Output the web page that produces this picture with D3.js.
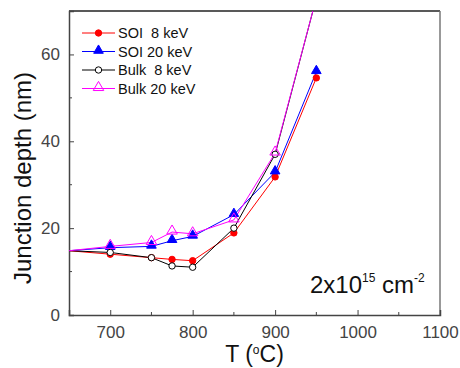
<!DOCTYPE html>
<html>
<head>
<meta charset="utf-8">
<script src="https://cdn.jsdelivr.net/npm/d3@7"></script>
<style>
  body { margin: 0; background: #fff; }
  text { font-family: "Liberation Sans", Arial, sans-serif; }
</style>
</head>
<body>
<div id="chart"></div>
<script>
// data
const temps = [650, 700, 750, 775, 800, 850, 900, 950];
const soi8   = [14.8, 14.0, 13.2, 12.8, 12.5, 18.9, 31.8, 54.6];
const soi20  = [14.8, 15.5, 15.8, 17.1, 18.1, 23.1, 32.9, 56.0];
const bulk8  = [14.8, 14.4, 13.2, 11.3, 11.0, 20.0, 37.0, 73.0];
const bulk20 = [14.8, 15.8, 16.7, 19.1, 18.7, 21.9, 37.3, 73.0];
const xTicks = [700, 800, 900, 1000, 1100];
const yTicks = [0, 20, 40, 60];

const series = [
  {name: "SOI  8 keV",  values: soi8,   color: "#ff0000", shape: "circle",   filled: true},
  {name: "SOI 20 keV",  values: soi20,  color: "#0000ff", shape: "triangle", filled: true},
  {name: "Bulk  8 keV", values: bulk8,  color: "#000000", shape: "circle",   filled: false},
  {name: "Bulk 20 keV", values: bulk20, color: "#ff00ff", shape: "triangle", filled: false}
];

const W = 460, H = 368;
const margin = {top: 11, right: 20, bottom: 53, left: 69};
const width = W - margin.left - margin.right,
      height = H - margin.top - margin.bottom;

const svg = d3.select("#chart").append("svg")
    .attr("width", W).attr("height", H)
  .append("g")
    .attr("transform", "translate(" + margin.left + "," + margin.top + ")");

const x = d3.scaleLinear().domain([650, 1100]).range([0, width]);
const y = d3.scaleLinear().domain([0, 70]).range([height, 0]);

svg.append("defs").append("clipPath").attr("id", "clip")
  .append("rect").attr("width", width).attr("height", height);

// frame top/right
svg.append("line").attr("x1", 0).attr("x2", width).attr("y1", 0).attr("y2", 0)
  .attr("stroke", "#222").attr("stroke-width", 1.5);
svg.append("line").attr("x1", width).attr("x2", width).attr("y1", 0).attr("y2", height)
  .attr("stroke", "#777").attr("stroke-width", 1.5);

// x axis
const gx = svg.append("g").attr("transform", "translate(0," + height + ")")
  .call(d3.axisBottom(x).tickValues(xTicks).tickSize(-5).tickPadding(11).tickFormat(d3.format("d")));
gx.append("g").selectAll("line").data([750, 850, 950, 1050]).enter().append("line")
  .attr("x1", d => x(d)).attr("x2", d => x(d)).attr("y1", 0).attr("y2", -3)
  .attr("stroke", "#444");

// y axis
const gy = svg.append("g")
  .call(d3.axisLeft(y).tickValues(yTicks).tickSize(-5).tickPadding(9));
gy.append("g").selectAll("line").data([10, 30, 50]).enter().append("line")
  .attr("y1", d => y(d)).attr("y2", d => y(d)).attr("x1", 0).attr("x2", 3)
  .attr("stroke", "#444");

[gx, gy].forEach(g => {
  g.select(".domain").attr("stroke", "#444").attr("stroke-width", 1.5);
  g.selectAll(".tick line").attr("stroke", "#444");
  g.selectAll(".tick text").attr("fill", "#444").style("font-size", "17px");
});

// axis titles
svg.append("text")
  .attr("x", width / 2).attr("y", height + 47)
  .attr("text-anchor", "middle").style("font-size", "23px").attr("fill", "#111")
  .html('T (<tspan dy="-8" font-size="12px">o</tspan><tspan dy="8">C)</tspan>');

svg.append("text")
  .attr("transform", "rotate(-90)")
  .attr("x", -167).attr("y", -margin.left + 31)
  .attr("text-anchor", "middle").style("font-size", "24px").attr("fill", "#111")
  .text("Junction depth (nm)");

// annotation
svg.append("text")
  .attr("x", 241).attr("y", 282)
  .style("font-size", "24px").attr("fill", "#111")
  .html('2x10<tspan dy="-11" font-size="12px">15</tspan><tspan dy="11"> cm</tspan><tspan dy="-11" font-size="12px">-2</tspan>');

// lines and markers
const line = d3.line().x((d, i) => x(temps[i])).y(d => y(d));
const plot = svg.append("g").attr("clip-path", "url(#clip)");

function marker(g, s, px, py) {
  if (s.shape === "circle") {
    g.append("circle").attr("cx", px).attr("cy", py).attr("r", 3.2)
      .attr("fill", s.filled ? s.color : "#fff").attr("stroke", s.color).attr("stroke-width", 1);
  } else {
    g.append("path")
      .attr("d", d3.symbol().type(d3.symbolTriangle).size(s.filled ? 40 : 48)())
      .attr("transform", "translate(" + px + "," + (py - 1) + ")")
      .attr("fill", s.filled ? s.color : "none").attr("stroke", s.color).attr("stroke-width", 1);
  }
}

series.forEach(s => {
  plot.append("path").datum(s.values)
    .attr("d", line).attr("fill", "none")
    .attr("stroke", s.color).attr("stroke-width", 1);
});
series.forEach(s => {
  s.values.forEach((v, i) => {
    if (temps[i] > 650 && y(v) > 0) marker(plot, s, x(temps[i]), y(v));
  });
});

// legend
const legend = svg.append("g").attr("transform", "translate(13,22)");
series.forEach((s, i) => {
  const g = legend.append("g").attr("transform", "translate(0," + (i * 18.5) + ")");
  g.append("line").attr("x1", 0).attr("x2", 33).attr("stroke", s.color).attr("stroke-width", 1);
  marker(g, s, 16.5, 0);
  g.append("text").attr("x", 36).attr("y", 5).style("font-size", "14.5px").attr("fill", "#111")
    .attr("xml:space", "preserve").style("white-space", "pre").text(s.name);
});
</script>
</body>
</html>
